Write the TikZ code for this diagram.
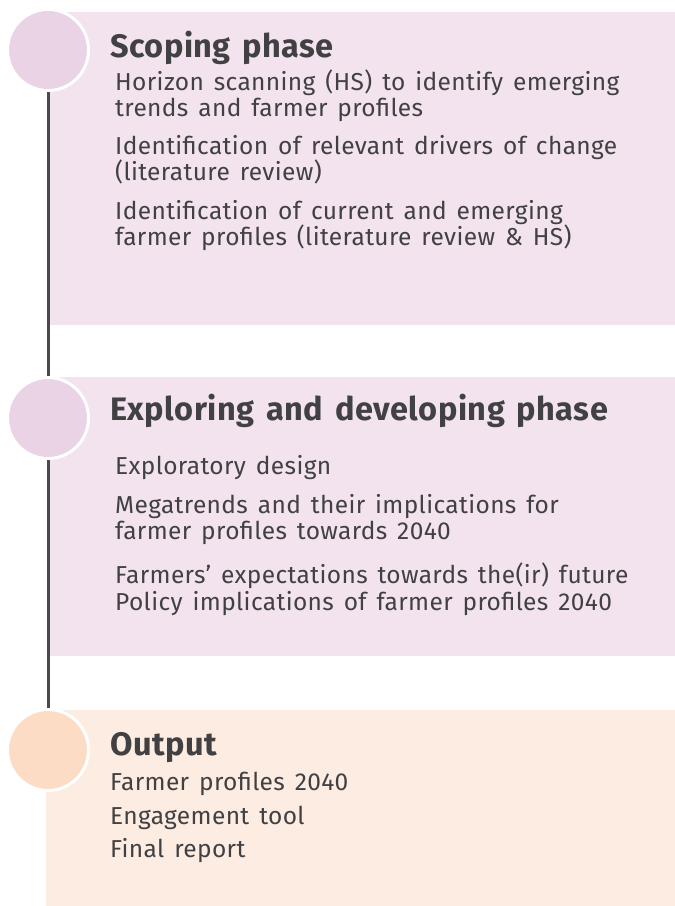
\documentclass[tikz,border=0pt]{standalone}
\usepackage{fontspec}
\setmainfont[WordSpace=1.45,LetterSpace=1.5]{Fira Sans}
\definecolor{pinkbox}{HTML}{F2E3EE}
\definecolor{pinkcirc}{HTML}{E9D3E4}
\definecolor{peachbox}{HTML}{FDECE2}
\definecolor{peachcirc}{HTML}{FCDCC5}
\definecolor{txt}{HTML}{414042}
\definecolor{rail}{HTML}{4A4A4A}
\tikzset{
  panel/.style={rectangle, draw=none, inner sep=0pt, outer sep=0pt, anchor=north west},
  dot/.style={circle, minimum size=81pt, inner sep=0pt, draw=white, line width=3pt},
  ttl/.style={anchor=base west, inner sep=0pt, text=txt, font=\fontsize{32.5}{36}\selectfont\bfseries},
  body/.style={anchor=base west, inner sep=0pt, text=txt, font=\fontsize{24.5}{27}\selectfont},
  railline/.style={draw=rail, line width=3pt}
}
\begin{document}
\begin{tikzpicture}[x=1pt,y=-1pt]
\useasboundingbox (0,0) rectangle (675,906);
\fill[white] (0,0) rectangle (675,906);
% panels
\node[panel, fill=pinkbox, minimum width=627pt, minimum height=313pt] (b1) at (48,12) {};
\node[panel, fill=pinkbox, minimum width=627pt, minimum height=279pt] (b2) at (48,377) {};
\node[panel, fill=peachbox, minimum width=629pt, minimum height=196pt] (b3) at (46,710) {};
% rail
\coordinate (p1) at (48,50);
\coordinate (p2) at (48,418);
\coordinate (p3) at (48,750);
\draw[railline] (p1) -- (p3);
% circles
\node[dot, fill=pinkcirc] (c1) at (p1) {};
\node[dot, fill=pinkcirc] (c2) at (p2) {};
\node[dot, fill=peachcirc] (c3) at (p3) {};
% box 1 text
\node[ttl] (t1) at (110,57) {Scoping phase};
\node[body] (l11) at (115,90) {Horizon scanning (HS) to identify emerging};
\node[body] (l12) at (115,116) {trends and farmer profiles};
\node[body] (l13) at (115,154) {Identification of relevant drivers of change};
\node[body] (l14) at (115,180) {(literature review)};
\node[body] (l15) at (115,219) {Identification of current and emerging};
\node[body] (l16) at (115,245) {farmer profiles (literature review \& HS)};
% box 2 text
\node[ttl] (t2) at (110,420) {Exploring and developing phase};
\node[body] (l21) at (115,474) {Exploratory design};
\node[body] (l22) at (115,513) {Megatrends and their implications for};
\node[body] (l23) at (115,539) {farmer profiles towards 2040};
\node[body] (l24) at (115,583) {Farmers' expectations towards the(ir) future};
\node[body] (l25) at (115,610) {Policy implications of farmer profiles 2040};
% box 3 text
\node[ttl] (t3) at (110,755) {Output};
\node[body] (l31) at (110,790) {Farmer profiles 2040};
\node[body] (l32) at (110,824) {Engagement tool};
\node[body] (l33) at (110,857) {Final report};
\end{tikzpicture}
\end{document}
